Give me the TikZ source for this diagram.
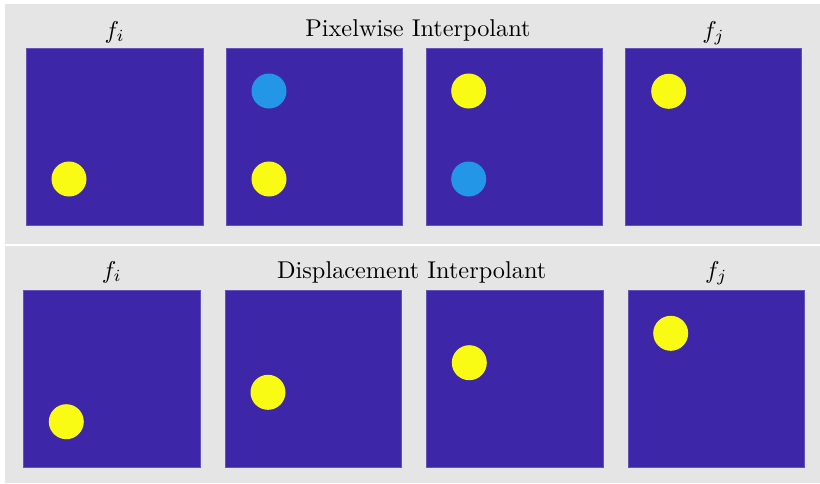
\documentclass[tikz,border=0pt]{standalone}
\usepackage{graphicx}
\definecolor{panelgray}{RGB}{229,229,229}
\definecolor{parblue}{RGB}{61,38,168}
\definecolor{paryellow}{RGB}{249,251,21}
\definecolor{parcyan}{RGB}{36,150,232}
\newcommand\bigtxt[1]{\scalebox{2.43}{#1}}
\begin{document}
\begin{tikzpicture}[x=1pt,y=-1pt,
  sq/.style={rectangle,fill=parblue,draw=parblue!80!white,line width=0.6pt,minimum width=176.5pt,minimum height=177pt,inner sep=0pt},
  ydot/.style={circle,fill=paryellow,minimum size=35pt,inner sep=0pt},
  cdot/.style={circle,fill=parcyan,minimum size=35pt,inner sep=0pt},
  lbl/.style={anchor=base,inner sep=0pt}]
\useasboundingbox (0,0) rectangle (820,483);
\fill[white] (0,0) rectangle (820,483);
\fill[panelgray] (5,4) rectangle (820,244);
\fill[panelgray] (5,246) rectangle (820,483);
% top row
\node[sq] (t1) at (114.7,136.5) {};
\node[sq] (t2) at (314.2,136.5) {};
\node[sq] (t3) at (514.2,136.5) {};
\node[sq] (t4) at (713.5,136.5) {};
\node[ydot] (t1y) at (69,179) {};
\node[cdot] (t2c) at (269,91) {};
\node[ydot] (t2y) at (269,179) {};
\node[ydot] (t3y) at (468.7,91) {};
\node[cdot] (t3c) at (468.7,179) {};
\node[ydot] (t4y) at (668.7,91.3) {};
\node[lbl] (tfi) at (114.7,38) {\bigtxt{$f_i$}};
\node[lbl] (ttitle) at (418,36.7) {\bigtxt{Pixelwise Interpolant}};
\node[lbl] (tfj) at (713.5,38) {\bigtxt{$f_j$}};
% bottom row
\node[sq] (b1) at (111.8,378.7) {};
\node[sq] (b2) at (313.3,378.7) {};
\node[sq] (b3) at (514.7,378.7) {};
\node[sq] (b4) at (716.2,378.7) {};
\node[ydot] (b1y) at (66.3,421.7) {};
\node[ydot] (b2y) at (268,392.3) {};
\node[ydot] (b3y) at (469.3,362.7) {};
\node[ydot] (b4y) at (670.7,333.3) {};
\node[lbl] (bfi) at (111.8,278) {\bigtxt{$f_i$}};
\node[lbl] (btitle) at (411.7,278) {\bigtxt{Displacement Interpolant}};
\node[lbl] (bfj) at (716.2,278) {\bigtxt{$f_j$}};
\end{tikzpicture}
\end{document}
